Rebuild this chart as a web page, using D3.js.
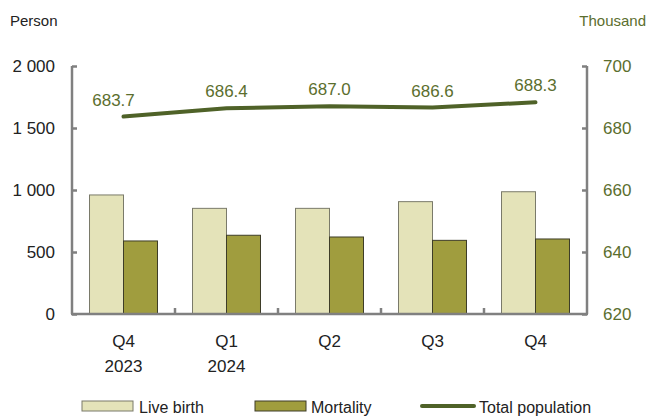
<!DOCTYPE html>
<html>
<head>
<meta charset="utf-8">
<script src="https://cdn.jsdelivr.net/npm/d3@7"></script>
<style>
    body { margin: 0; background: #fff; }
    text { font-family: "Liberation Sans", Arial, sans-serif; }
</style>
</head>
<body>
<div id="chart"></div>
<script>
const quarters = ["Q4|2023", "Q1|2024", "Q2", "Q3", "Q4b"];
const quarterLabels = [["Q4", "2023"], ["Q1", "2024"], ["Q2"], ["Q3"], ["Q4"]];
const liveBirth = [960, 852, 852, 906, 986];
const mortality = [589, 635, 621, 594, 605];
const totalPopulation = [683.7, 686.4, 687.0, 686.6, 688.3];
const leftTicks = [0, 500, 1000, 1500, 2000];
const rightTicks = [620, 640, 660, 680, 700];

const width = 648, height = 416;
const margin = { top: 66, right: 61, bottom: 102, left: 72 };
const innerW = width - margin.left - margin.right;
const innerH = height - margin.top - margin.bottom;

const axisColor = "#808080";
const lineColor = "#4f6228";
const labelGreen = "#5b6e2e";
const fs = "17px";

const svg = d3.select("#chart").append("svg")
    .attr("width", width)
    .attr("height", height);

const g = svg.append("g")
    .attr("transform", `translate(${margin.left}, ${margin.top})`);

const x = d3.scaleBand().domain(quarters).range([0, innerW]);
const xInner = d3.scaleBand().domain(["birth", "mort"])
    .range([0, x.bandwidth()]).paddingInner(0).paddingOuter(0.515);
const yLeft = d3.scaleLinear().domain([0, 2000]).range([innerH, 0]);
const yRight = d3.scaleLinear().domain([620, 700]).range([innerH, 0]);

// bars
const groups = g.selectAll(".grp")
    .data(quarters)
    .join("g")
    .attr("class", "grp")
    .attr("transform", (d) => `translate(${x(d)},0)`);

groups.append("rect")
    .attr("x", xInner("birth"))
    .attr("width", xInner.bandwidth())
    .attr("y", (d, i) => yLeft(liveBirth[i]))
    .attr("height", (d, i) => innerH - yLeft(liveBirth[i]))
    .attr("fill", "#e4e3b9")
    .attr("stroke", "#7a7a6a")
    .attr("stroke-width", 1);

groups.append("rect")
    .attr("x", xInner("mort"))
    .attr("width", xInner.bandwidth())
    .attr("y", (d, i) => yLeft(mortality[i]))
    .attr("height", (d, i) => innerH - yLeft(mortality[i]))
    .attr("fill", "#a09d3e")
    .attr("stroke", "#3e3d28")
    .attr("stroke-width", 1);

// left axis
const leftAxis = g.append("g")
    .call(d3.axisLeft(yLeft).tickValues(leftTicks).tickSize(-5).tickPadding(17)
        .tickFormat((d) => d3.format(",")(d).replace(",", " ")));
leftAxis.select(".domain").attr("stroke", axisColor).attr("stroke-width", 2.5)
    .attr("d", `M0,0V${innerH}`);
leftAxis.selectAll(".tick line").attr("stroke", axisColor).attr("stroke-width", 2.5);
leftAxis.selectAll(".tick text").attr("fill", "#222").style("font-size", fs);

// right axis
const rightAxis = g.append("g")
    .attr("transform", `translate(${innerW},0)`)
    .call(d3.axisRight(yRight).tickValues(rightTicks).tickSize(-5).tickPadding(16));
rightAxis.select(".domain").attr("stroke", axisColor).attr("stroke-width", 2.5)
    .attr("d", `M0,0V${innerH}`);
rightAxis.selectAll(".tick line").attr("stroke", axisColor).attr("stroke-width", 2.5);
rightAxis.selectAll(".tick text").attr("fill", labelGreen).style("font-size", fs);

// bottom axis with ticks between categories
const bottom = g.append("g").attr("transform", `translate(0,${innerH})`);
bottom.append("line")
    .attr("x1", -1).attr("x2", innerW + 1)
    .attr("stroke", axisColor).attr("stroke-width", 2.5);
bottom.selectAll(".sep")
    .data(quarters.slice(1))
    .join("line")
    .attr("x1", (d) => x(d)).attr("x2", (d) => x(d))
    .attr("y1", 0).attr("y2", -6)
    .attr("stroke", axisColor).attr("stroke-width", 2.5);
bottom.selectAll(".xlab")
    .data(quarters)
    .join("text")
    .attr("text-anchor", "middle")
    .attr("fill", "#222")
    .style("font-size", fs)
    .attr("transform", (d) => `translate(${x(d) + x.bandwidth() / 2},0)`)
    .selectAll("tspan")
    .data((d, i) => quarterLabels[i])
    .join("tspan")
    .attr("x", 0)
    .attr("y", (d, j) => 33 + j * 25)
    .text((d) => d);

// population line
const line = d3.line()
    .x((d, i) => x(quarters[i]) + x.bandwidth() / 2)
    .y((d) => yRight(d));

g.append("path")
    .datum(totalPopulation)
    .attr("d", line)
    .attr("fill", "none")
    .attr("stroke", lineColor)
    .attr("stroke-width", 4)
    .attr("stroke-linecap", "round");

g.selectAll(".poplab")
    .data(totalPopulation)
    .join("text")
    .attr("x", (d, i) => x(quarters[i]) + x.bandwidth() / 2 + (i === 0 ? -10 : 0))
    .attr("y", (d) => yRight(d) - 11)
    .attr("text-anchor", "middle")
    .attr("fill", labelGreen)
    .style("font-size", fs)
    .text((d) => d.toFixed(1));

// axis titles
svg.append("text")
    .attr("x", 10).attr("y", 26)
    .attr("fill", "#222")
    .style("font-size", "15px")
    .text("Person");
svg.append("text")
    .attr("x", 646).attr("y", 26)
    .attr("text-anchor", "end")
    .attr("fill", labelGreen)
    .style("font-size", "15px")
    .text("Thousand");

// legend
const legend = svg.append("g").attr("transform", "translate(0,401)");
legend.append("rect").attr("x", 82).attr("y", 0).attr("width", 51).attr("height", 10)
    .attr("fill", "#e4e3b9").attr("stroke", "#7a7a6a");
legend.append("text").attr("x", 139).attr("y", 12).style("font-size", "16px")
    .attr("fill", "#222").text("Live birth");
legend.append("rect").attr("x", 255).attr("y", 0).attr("width", 51).attr("height", 10)
    .attr("fill", "#a09d3e").attr("stroke", "#3e3d28");
legend.append("text").attr("x", 311).attr("y", 12).style("font-size", "16px")
    .attr("fill", "#222").text("Mortality");
legend.append("line").attr("x1", 422).attr("x2", 474).attr("y1", 5).attr("y2", 5)
    .attr("stroke", lineColor).attr("stroke-width", 4).attr("stroke-linecap", "round");
legend.append("text").attr("x", 479).attr("y", 12).style("font-size", "16px")
    .attr("fill", "#222").text("Total population");
</script>
</body>
</html>
